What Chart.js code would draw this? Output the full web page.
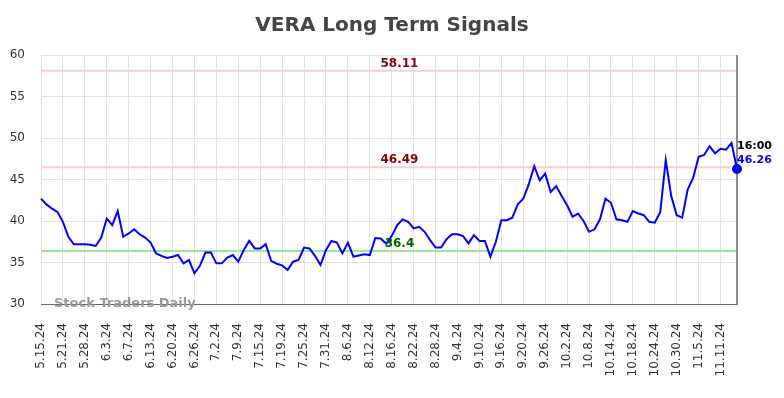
<!DOCTYPE html>
<html>
<head>
<meta charset="utf-8">
<script src="https://cdn.jsdelivr.net/npm/chart.js@4.4.1/dist/chart.umd.min.js"></script>
<style>
  body { margin: 0; background: #fff; }
  #wrap { width: 784px; height: 398px; }
</style>
</head>
<body>
<div id="wrap"><canvas id="vera"></canvas></div>
<script>
// trading days shown on the x axis (every 4th one gets a label)
const dates = [
  '5.15.24','5.16.24','5.17.24','5.20.24','5.21.24','5.22.24','5.23.24','5.24.24','5.28.24','5.29.24','5.30.24','5.31.24',
  '6.3.24','6.4.24','6.5.24','6.6.24','6.7.24','6.10.24','6.11.24','6.12.24','6.13.24','6.14.24','6.17.24','6.18.24','6.20.24','6.21.24','6.24.24','6.25.24','6.26.24','6.27.24','6.28.24',
  '7.1.24','7.2.24','7.3.24','7.5.24','7.8.24','7.9.24','7.10.24','7.11.24','7.12.24','7.15.24','7.16.24','7.17.24','7.18.24','7.19.24','7.22.24','7.23.24','7.24.24','7.25.24','7.26.24','7.29.24','7.30.24','7.31.24',
  '8.1.24','8.2.24','8.5.24','8.6.24','8.7.24','8.8.24','8.9.24','8.12.24','8.13.24','8.14.24','8.15.24','8.16.24','8.19.24','8.20.24','8.21.24','8.22.24','8.23.24','8.26.24','8.27.24','8.28.24','8.29.24','8.30.24',
  '9.3.24','9.4.24','9.5.24','9.6.24','9.9.24','9.10.24','9.11.24','9.12.24','9.13.24','9.16.24','9.17.24','9.18.24','9.19.24','9.20.24','9.23.24','9.24.24','9.25.24','9.26.24','9.27.24','9.30.24',
  '10.1.24','10.2.24','10.3.24','10.4.24','10.7.24','10.8.24','10.9.24','10.10.24','10.11.24','10.14.24','10.15.24','10.16.24','10.17.24','10.18.24','10.21.24','10.22.24','10.23.24','10.24.24','10.25.24','10.28.24','10.29.24','10.30.24','10.31.24',
  '11.1.24','11.4.24','11.5.24','11.6.24','11.7.24','11.8.24','11.11.24','11.12.24','11.13.24','11.14.24'
];

const prices = [
  42.7, 42.0, 41.5, 41.1, 39.9, 38.1, 37.2, 37.2, 37.2, 37.15, 37.0, 38.0,
  40.3, 39.5, 41.2, 38.1, 38.5, 39.0, 38.4, 38.0, 37.4, 36.1, 35.8, 35.55, 35.7, 35.9, 34.9, 35.3, 33.7, 34.6, 36.2,
  36.2, 34.9, 34.9, 35.6, 35.9, 35.1, 36.5, 37.6, 36.7, 36.7, 37.2, 35.2, 34.85, 34.65, 34.1, 35.1, 35.3, 36.8, 36.7, 35.8, 34.7, 36.5,
  37.6, 37.4, 36.1, 37.4, 35.7, 35.85, 36.0, 35.9, 37.95, 37.9, 37.25, 38.2, 39.5, 40.2, 39.9, 39.1, 39.3, 38.7, 37.7, 36.8, 36.8, 37.8,
  38.4, 38.4, 38.2, 37.3, 38.3, 37.6, 37.6, 35.7, 37.5, 40.1, 40.1, 40.4, 42.0, 42.7, 44.4, 46.6, 44.9, 45.7, 43.5, 44.2,
  43.0, 41.9, 40.5, 40.9, 40.0, 38.7, 39.0, 40.2, 42.7, 42.2, 40.2, 40.1, 39.9, 41.2, 40.9, 40.7, 39.9, 39.8, 41.1, 47.35, 43.0, 40.7, 40.4,
  43.8, 45.2, 47.75, 47.95, 49.0, 48.15, 48.7, 48.6, 49.4, 46.26
];

const levels = [58.11, 46.49, 36.4];
const levelLine = ['#ffcccc', '#ffcccc', '#99e699'];
const levelText = ['#8b0000', '#8b0000', '#006400'];
const lastTime = '16:00';
const tickEvery = 4;

Chart.defaults.font.family = "'DejaVu Sans', sans-serif";

const signals = {
    id: 'signals',
    beforeDatasetsDraw(chart) {
        const { ctx, chartArea: a, scales: { x, y } } = chart;
        ctx.save();
        levels.forEach((v, k) => {
            const py = y.getPixelForValue(v);
            ctx.strokeStyle = levelLine[k];
            ctx.lineWidth = 2;
            ctx.beginPath();
            ctx.moveTo(a.left, py);
            ctx.lineTo(a.right, py);
            ctx.stroke();
        });
        const lx = x.getPixelForValue(prices.length - 1);
        ctx.strokeStyle = '#8c8c8c';
        ctx.lineWidth = 2;
        ctx.beginPath();
        ctx.moveTo(lx, a.top);
        ctx.lineTo(lx, a.bottom);
        ctx.stroke();
        ctx.restore();
    },
    afterDatasetsDraw(chart) {
        const { ctx, chartArea: a, scales: { x, y } } = chart;
        ctx.save();
        ctx.font = 'bold 12px "DejaVu Sans"';
        ctx.textAlign = 'center';
        ctx.textBaseline = 'alphabetic';
        const cx = a.left + 0.515 * (a.right - a.left);
        levels.forEach((v, k) => {
            ctx.fillStyle = levelText[k];
            ctx.fillText(String(v), cx, y.getPixelForValue(v) - 4);
        });

        // last value tag
        const last = prices[prices.length - 1];
        const lx = x.getPixelForValue(prices.length - 1);
        const ly = y.getPixelForValue(last);
        ctx.font = 'bold 11px "DejaVu Sans"';
        ctx.textAlign = 'left';
        ctx.fillStyle = '#000';
        ctx.fillText(lastTime, lx, ly - 20);
        ctx.fillStyle = '#0000ff';
        ctx.fillText(last.toFixed(2), lx, ly - 6);

        // watermark
        ctx.font = 'bold 13px "DejaVu Sans"';
        ctx.fillStyle = '#999';
        ctx.fillText('Stock Traders Daily', a.left + 13, a.bottom + 3);
        ctx.restore();
    }
};

new Chart(document.getElementById('vera'), {
    type: 'line',
    data: {
        labels: dates,
        datasets: [{
            data: prices,
            borderColor: '#0000ff',
            backgroundColor: '#0000ff',
            borderWidth: 2,
            tension: 0,
            fill: false,
            pointRadius: ctx => ctx.dataIndex === prices.length - 1 ? 4 : 0,
            pointHoverRadius: 0
        }]
    },
    options: {
        responsive: true,
        maintainAspectRatio: false,
        animation: false,
        layout: { padding: 0 },
        plugins: {
            legend: { display: false },
            tooltip: { enabled: false },
            title: {
                display: true,
                text: 'VERA Long Term Signals',
                color: '#444',
                font: { size: 20, weight: 'bold' },
                padding: { top: 14, bottom: 17 }
            }
        },
        scales: {
            x: {
                afterBuildTicks: axis => {
                    axis.ticks = axis.ticks.filter(t => t.value % tickEvery === 0);
                },
                afterFit: axis => { axis.height = 94; },
                ticks: {
                    autoSkip: false,
                    minRotation: 90,
                    maxRotation: 90,
                    padding: 19,
                    color: '#333',
                    font: { size: 12 }
                },
                grid: { color: '#e3e3e3', drawTicks: false },
                border: { color: '#666', width: 1 }
            },
            y: {
                min: 30,
                max: 60,
                afterFit: axis => { axis.width = 41; },
                ticks: {
                    stepSize: 5,
                    padding: 16,
                    color: '#333',
                    font: { size: 12 }
                },
                grid: { color: '#e3e3e3', drawTicks: false },
                border: { display: false }
            },
            // empty strip on the right that holds the last-value tag
            side: {
                position: 'right',
                afterFit: axis => { axis.width = 47; },
                ticks: { display: false },
                grid: { display: false },
                border: { display: false }
            }
        }
    },
    plugins: [signals]
});
</script>
</body>
</html>
